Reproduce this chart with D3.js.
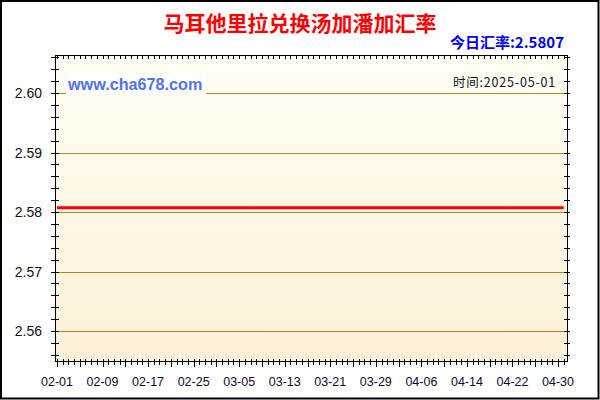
<!DOCTYPE html>
<meta charset="utf-8">
<title>马耳他里拉兑换汤加潘加汇率</title>
<script src="https://d3js.org/d3.v7.min.js"></script>
<style>
  body { margin: 0; background: #fff; }
  text { font-family: "Liberation Sans", Arial, sans-serif; }
  .cjk { font-family: "Noto Sans CJK SC", "Liberation Sans", sans-serif; }
</style>
<body>
<div id="chart"></div>
<script>

// chart data
var titleText = "马耳他里拉兑换汤加潘加汇率";
var rateText = "今日汇率:2.5807";
var timeText = "时间:2025-05-01";
var siteText = "www.cha678.com";

var dates = ["2025-02-01", "2025-02-09", "2025-02-17", "2025-02-25", "2025-03-05", "2025-03-13",
             "2025-03-21", "2025-03-29", "2025-04-06", "2025-04-14", "2025-04-22", "2025-04-30", "2025-05-01"];
var rates = [2.5807, 2.5807, 2.5807, 2.5807, 2.5807, 2.5807,
             2.5807, 2.5807, 2.5807, 2.5807, 2.5807, 2.5807, 2.5807];

var xTickLabels = ["02-01", "02-09", "02-17", "02-25", "03-05", "03-13",
                   "03-21", "03-29", "04-06", "04-14", "04-22", "04-30"];
var yTicks = [2.56, 2.57, 2.58, 2.59, 2.60];

// layout
var W = 600, H = 400;
var plot = { left: 55, right: 568, top: 55, bottom: 362 };

var svg = d3.select("#chart").append("svg")
    .attr("width", W)
    .attr("height", H);

var parse = d3.utcParse("%Y-%m-%d");
var DAY = 864e5;

// scales
var x = d3.scaleUtc()
    .domain([new Date(+parse("2025-02-01") - 0.35 * DAY), new Date(+parse("2025-04-30") + 1.75 * DAY)])
    .range([plot.left, plot.right]);

var y = d3.scaleLinear()
    .domain([2.55479, 2.60639])
    .range([plot.bottom, plot.top]);

// background + border
svg.append("rect")
    .attr("x", 1).attr("y", 1)
    .attr("width", W - 2.5).attr("height", H - 2.5)
    .attr("fill", "#fff")
    .attr("stroke", "#000")
    .attr("stroke-width", 2);

var grad = svg.append("defs").append("linearGradient")
    .attr("id", "bg").attr("x1", 0).attr("y1", 0).attr("x2", 0).attr("y2", 1);
grad.append("stop").attr("offset", "0%").attr("stop-color", "#fffef3");
grad.append("stop").attr("offset", "100%").attr("stop-color", "#fdf0d9");

svg.append("rect")
    .attr("x", plot.left).attr("y", plot.top)
    .attr("width", plot.right - plot.left)
    .attr("height", plot.bottom - plot.top)
    .attr("fill", "url(#bg)");

// grid lines
svg.append("g")
    .selectAll("line")
    .data(yTicks)
    .enter()
    .append("line")
    .attr("x1", plot.left).attr("x2", plot.right)
    .attr("y1", function (d) { return Math.round(y(d)) + 0.5; })
    .attr("y2", function (d) { return Math.round(y(d)) + 0.5; })
    .attr("stroke", "#b8861e")
    .attr("stroke-width", 1);

// watermark boxes
svg.append("rect")
    .attr("x", 66).attr("y", 75).attr("width", 140).attr("height", 19)
    .attr("fill", "#fff");
svg.append("text")
    .attr("x", 68).attr("y", 90)
    .attr("font-size", 16.2).attr("font-weight", "bold")
    .attr("fill", "#4f72ee")
    .text(siteText);

svg.append("rect")
    .attr("x", 451).attr("y", 75).attr("width", 107).attr("height", 15)
    .attr("fill", "#fffef6");
svg.append("text")
    .attr("class", "cjk")
    .attr("x", 556).attr("y", 87)
    .attr("text-anchor", "end")
    .attr("font-size", 12.5)
    .attr("letter-spacing", 0.8)
    .attr("fill", "#111")
    .text(timeText);

// rate line
var line = d3.line()
    .x(function (d, i) { return x(parse(dates[i])); })
    .y(function (d) { return y(d); });

svg.append("path")
    .datum(rates)
    .attr("d", line)
    .attr("fill", "none")
    .attr("stroke", "#ff0000")
    .attr("stroke-width", 3);

// frame
svg.append("rect")
    .attr("x", plot.left + 0.5).attr("y", plot.top + 0.5)
    .attr("width", plot.right - plot.left - 1)
    .attr("height", plot.bottom - plot.top - 1)
    .attr("fill", "none")
    .attr("stroke", "#000")
    .attr("stroke-width", 1);

// y ticks (left + right), minor every 0.002
var yMinor = d3.range(2.556, 2.6065, 0.002);
var ticks = svg.append("g").attr("stroke", "#000").attr("stroke-width", 1);
yMinor.forEach(function (v) {
    var py = Math.round(y(v)) + 0.5;
    ticks.append("line").attr("x1", plot.left - 4).attr("x2", plot.left + 4).attr("y1", py).attr("y2", py);
    ticks.append("line").attr("x1", plot.right - 4).attr("x2", plot.right + 2).attr("y1", py).attr("y2", py);
});

// x ticks (top + bottom), minor each day, major every 4 days
var xDays = d3.utcDay.range(parse("2025-02-01"), new Date(+parse("2025-05-01") + DAY));
xDays.forEach(function (d, i) {
    var px = Math.round(x(d)) + 0.5;
    if (px > plot.right) return;
    var major = i % 4 === 0;
    ticks.append("line").attr("x1", px).attr("x2", px)
        .attr("y1", plot.bottom - 3).attr("y2", plot.bottom + (major ? 5 : 3));
    ticks.append("line").attr("x1", px).attr("x2", px)
        .attr("y1", plot.top).attr("y2", plot.top + 4);
});

// y labels
svg.append("g")
    .selectAll("text")
    .data(yTicks)
    .enter()
    .append("text")
    .attr("x", 42)
    .attr("y", function (d) { return y(d) + 5; })
    .attr("text-anchor", "end")
    .attr("font-size", 14)
    .attr("fill", "#111")
    .text(function (d) { return d.toFixed(2); });

// x labels
svg.append("g")
    .selectAll("text")
    .data(xTickLabels)
    .enter()
    .append("text")
    .attr("x", function (d) { return x(parse("2025-" + d)); })
    .attr("y", 386)
    .attr("text-anchor", "middle")
    .attr("font-size", 12.5)
    .attr("fill", "#0a0a30")
    .text(function (d) { return d; });

// titles
svg.append("text")
    .attr("class", "cjk")
    .attr("x", 300).attr("y", 31)
    .attr("text-anchor", "middle")
    .attr("font-size", 21).attr("font-weight", "bold")
    .attr("fill", "#ff0000")
    .text(titleText);

svg.append("text")
    .attr("class", "cjk")
    .attr("x", 564).attr("y", 48)
    .attr("text-anchor", "end")
    .attr("font-size", 15).attr("font-weight", "bold")
    .attr("fill", "#0000ff")
    .text(rateText);

</script>
</body>
